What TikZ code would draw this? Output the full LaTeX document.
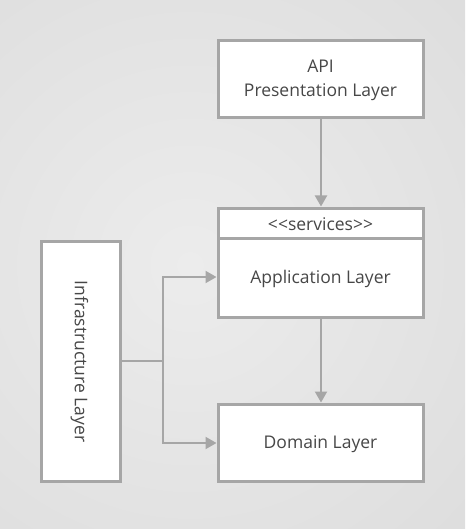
\documentclass[tikz,border=0pt]{standalone}
\usepackage{fontspec}
\setmainfont{Open Sans}
\usetikzlibrary{arrows.meta}
\definecolor{edge}{HTML}{A6A6A6}
\definecolor{txt}{HTML}{474747}
\begin{document}
\begin{tikzpicture}[x=1pt,y=-1pt,
  layerbox/.style={draw=edge,line width=3pt,fill=white},
  lbl/.style={text=txt,font=\fontsize{17.5}{24}\selectfont,align=center,inner sep=0pt},
  conn/.style={draw=edge,line width=2pt},
  arr/.style={conn,-{Triangle[width=12pt,length=11pt]}}]
\useasboundingbox (0,0) rectangle (465,529);
\begin{scope}
\clip (0,0) rectangle (465,529);
\shade[inner color={rgb,255:red,236;green,236;blue,236},outer color={rgb,255:red,212;green,212;blue,212}] (190,265) circle (640);
\end{scope}
\path[layerbox] (218,41) rectangle (423,118);
\node[lbl] (api) at (320.5,80) {API\\Presentation Layer};
\path[layerbox] (218,208) rectangle (423,317);
\draw[edge,line width=3pt] (218,238) -- (423,238);
\node[lbl] (svc) at (320.5,224) {<\kern0pt<services>\kern0pt>};
\node[lbl] (app) at (320.5,279) {Application Layer};
\path[layerbox] (218,404) rectangle (423,481);
\node[lbl] (dom) at (320.5,444) {Domain Layer};
\path[layerbox] (41,241) rectangle (120,481);
\node[lbl,rotate=-90] (inf) at (79.5,361.5) {Infrastructure Layer};
\coordinate (apib) at (321,119.5);
\coordinate (svct) at (321,206.5);
\coordinate (appb) at (321,318.5);
\coordinate (domt) at (321,402.5);
\coordinate (infr) at (121.5,361);
\coordinate (j) at (163,361);
\coordinate (appl) at (216.5,277);
\coordinate (doml) at (216.5,443);
\draw[arr] (apib) -- (svct);
\draw[arr] (appb) -- (domt);
\draw[conn] (infr) -- (j);
\draw[arr] (j) |- (appl);
\draw[arr] (j) |- (doml);
\end{tikzpicture}
\end{document}
